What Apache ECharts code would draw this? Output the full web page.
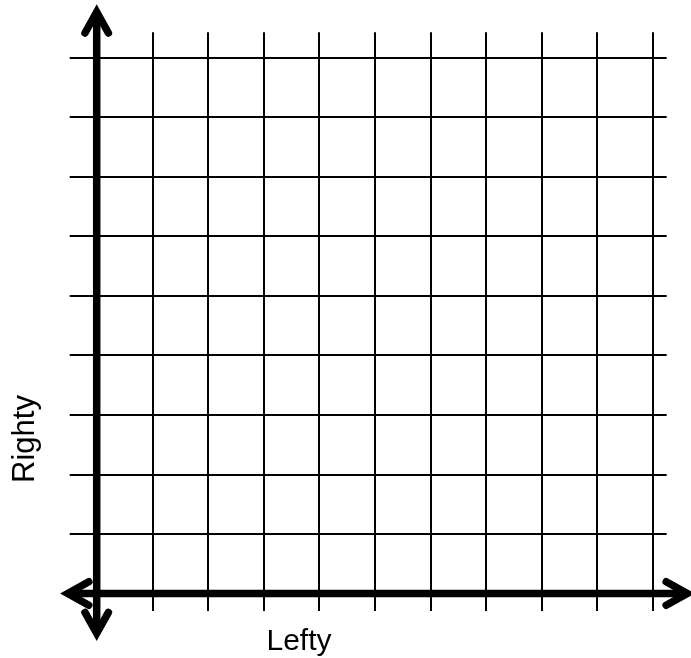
<!DOCTYPE html>
<html><head><meta charset="utf-8">
<script src="https://cdn.jsdelivr.net/npm/echarts@6/dist/echarts.min.js"></script>
<style>html,body{margin:0;padding:0;background:#fff}#c{width:691px;height:658px}</style>
</head><body><div id="c"></div>
<script>
// Graph-paper axes: tick positions (value space)
const xTicks = [0, 1, 2, 3, 4, 5, 6, 7, 8, 9, 10];
const yTicks = [0, 1, 2, 3, 4, 5, 6, 7, 8, 9];
const xAxisName = 'Lefty';
const yAxisName = 'Righty';
// extent of the thick arrowed axes, in value space
const xAxisSpan = [-0.52, 10.62];
const yAxisSpan = [-0.67, 9.76];

const chart = echarts.init(document.getElementById('c'), null, {renderer: 'canvas'});
const GRID_COLOR = '#000';
const FONT = '"Liberation Sans", Arial, Helvetica, sans-serif';

function valAxis(min, max, position, tickLen, split) {
  return {
    type: 'value', min: min, max: max, interval: 1,
    position: position,
    axisLine: {show: false, onZero: false},
    axisLabel: {show: false},
    axisTick: {show: true, inside: false, length: tickLen, lineStyle: {color: GRID_COLOR, width: 2}},
    splitLine: {show: split, lineStyle: {color: GRID_COLOR, width: 2}}
  };
}
const xMin = xTicks[0], xMax = xTicks[xTicks.length - 1];
const yMin = yTicks[0], yMax = yTicks[yTicks.length - 1];

function chevron(tip, dir, along, across) {
  // dir: unit vector pointing toward the tip
  const bx = tip[0] - dir[0] * along, by = tip[1] - dir[1] * along;
  const px = -dir[1], py = dir[0];
  return [[bx + px * across, by + py * across], tip, [bx - px * across, by - py * across]];
}

const option = {
  animation: false,
  backgroundColor: '#fff',
  grid: {left: 96.7, right: 38.3, top: 57.3, bottom: 64.5, containLabel: false},
  xAxis: [
    valAxis(xMin, xMax, 'bottom', 17.5, true),
    valAxis(xMin, xMax, 'top', 25, false)
  ],
  yAxis: [
    valAxis(yMin, yMax, 'left', 27, true),
    valAxis(yMin, yMax, 'right', 14, false)
  ],
  graphic: [
    {type: 'text', x: 299, y: 642, style: {text: xAxisName, fontSize: 30, fontFamily: FONT, fill: '#000', align: 'center', verticalAlign: 'middle'}},
    {type: 'text', x: 25, y: 439, rotation: Math.PI / 2, style: {text: yAxisName, fontSize: 31, fontFamily: FONT, fill: '#000', align: 'center', verticalAlign: 'middle'}}
  ],
  series: [{
    type: 'custom',
    clip: false,
    silent: true,
    data: [[0, 0]],
    renderItem: function (params, api) {
      const W = 7.5, ALONG = 21, ACROSS = 11.7;
      const xl = api.coord([xAxisSpan[0], 0]);
      const xr = api.coord([xAxisSpan[1], 0]);
      const yb = api.coord([0, yAxisSpan[0]]);
      const yt = api.coord([0, yAxisSpan[1]]);
      const st = {stroke: '#000', lineWidth: W, fill: null, lineCap: 'round', lineJoin: 'miter'};
      const lineSt = {stroke: '#000', lineWidth: W, fill: null, lineCap: 'butt'};
      return {
        type: 'group',
        children: [
          {type: 'line', shape: {x1: xl[0], y1: xl[1], x2: xr[0], y2: xr[1]}, style: lineSt},
          {type: 'line', shape: {x1: yb[0], y1: yb[1], x2: yt[0], y2: yt[1]}, style: lineSt},
          {type: 'polyline', shape: {points: chevron(xr, [1, 0], ALONG, ACROSS)}, style: st},
          {type: 'polyline', shape: {points: chevron(xl, [-1, 0], ALONG, ACROSS)}, style: st},
          {type: 'polyline', shape: {points: chevron(yt, [0, -1], ALONG, ACROSS)}, style: st},
          {type: 'polyline', shape: {points: chevron(yb, [0, 1], ALONG, ACROSS)}, style: st}
        ]
      };
    }
  }]
};
chart.setOption(option);
</script>
</body></html>
